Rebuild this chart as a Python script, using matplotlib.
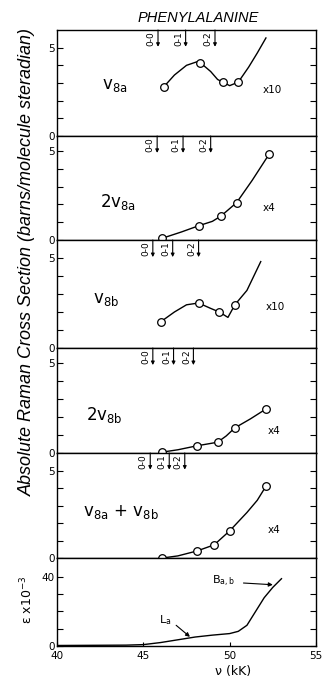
import matplotlib
matplotlib.use("Agg")
import matplotlib.pyplot as plt
from matplotlib.ticker import FixedLocator

plt.rcParams['font.family'] = ['DejaVu Sans']
plt.rcParams['mathtext.fontset'] = 'dejavusans'

# --- data (x in kK) ---
v8a_pts_x = [46.2, 48.3, 49.6, 50.5]
v8a_pts_y = [2.8, 4.15, 3.05, 3.05]
v8a_line_x = [46.2, 46.8, 47.5, 48.1, 48.3, 48.9, 49.3, 49.6, 50.0, 50.5, 51.1, 51.6, 52.1]
v8a_line_y = [2.8, 3.45, 4.0, 4.2, 4.15, 3.65, 3.2, 3.05, 2.85, 3.05, 3.9, 4.7, 5.55]

v8a2_pts_x = [46.1, 48.2, 49.5, 50.4, 52.3]
v8a2_pts_y = [0.1, 0.8, 1.35, 2.1, 4.85]
v8a2_line_x = [46.1, 47.2, 48.2, 49.0, 49.5, 50.4, 51.3, 51.8, 52.3]
v8a2_line_y = [0.1, 0.45, 0.8, 1.05, 1.35, 2.1, 3.35, 4.1, 4.85]

v8b_pts_x = [46.0, 48.2, 49.4, 50.3]
v8b_pts_y = [1.45, 2.5, 2.0, 2.4]
v8b_line_x = [46.0, 46.8, 47.5, 48.2, 48.9, 49.4, 49.9, 50.3, 51.0, 51.8]
v8b_line_y = [1.45, 2.0, 2.4, 2.5, 2.2, 2.0, 1.7, 2.4, 3.2, 4.8]

v8b2_pts_x = [46.1, 48.1, 49.3, 50.3, 52.1]
v8b2_pts_y = [0.05, 0.4, 0.6, 1.4, 2.45]
v8b2_line_x = [46.1, 47.0, 48.1, 49.3, 49.8, 50.3, 51.2, 52.1]
v8b2_line_y = [0.05, 0.18, 0.4, 0.6, 0.95, 1.4, 1.9, 2.45]

comb_pts_x = [46.1, 48.1, 49.1, 50.0, 52.1]
comb_pts_y = [0.0, 0.4, 0.75, 1.55, 4.1]
comb_line_x = [46.1, 47.0, 48.1, 49.1, 50.0, 51.0, 51.6, 52.1]
comb_line_y = [0.0, 0.12, 0.4, 0.75, 1.55, 2.6, 3.3, 4.1]

eps_x = [40.0, 44.0, 45.0, 46.0, 47.0, 48.0, 49.0, 50.0, 50.5, 51.0, 51.5, 52.0, 52.5, 53.0]
eps_y = [0.3, 0.5, 0.8, 2.0, 3.6, 5.2, 6.3, 7.2, 8.5, 12.0, 20.0, 28.0, 34.0, 39.0]

panel_names = [r'$\mathrm{v}_{\mathsf{8a}}$', r'$\mathsf{2}\mathrm{v}_{\mathsf{8a}}$',
               r'$\mathrm{v}_{\mathsf{8b}}$', r'$\mathsf{2}\mathrm{v}_{\mathsf{8b}}$',
               r'$\mathrm{v}_{\mathsf{8a}}\ \mathsf{+}\ \mathrm{v}_{\mathsf{8b}}$']
panel_scales = ['x10', 'x4', 'x10', 'x4', 'x4']
vib_labels = ['0-0', '0-1', '0-2']
vib_pos = [[45.85, 47.45, 49.15],
           [45.8, 47.3, 48.9],
           [45.55, 46.7, 48.2],
           [45.55, 46.75, 47.9],
           [45.4, 46.5, 47.4]]

series = [(v8a_pts_x, v8a_pts_y, v8a_line_x, v8a_line_y),
          (v8a2_pts_x, v8a2_pts_y, v8a2_line_x, v8a2_line_y),
          (v8b_pts_x, v8b_pts_y, v8b_line_x, v8b_line_y),
          (v8b2_pts_x, v8b2_pts_y, v8b2_line_x, v8b2_line_y),
          (comb_pts_x, comb_pts_y, comb_line_x, comb_line_y)]

# --- layout in pixels ---
W, H = 322, 682
LEFT, RIGHT = 57, 316
bounds = [(30, 136), (136, 240), (240, 348), (348, 453), (453, 558), (558, 646)]
ytops = [6.0, 5.85, 6.0, 5.85, 6.0, 51.0]
name_xy = [(42.6, 2.9), (42.5, 2.15), (42.1, 2.7), (41.7, 2.1), (41.5, 2.65)]
scale_xy = [(51.9, 2.6), (51.9, 1.8), (52.1, 2.3), (52.2, 1.2), (52.2, 1.6)]

fig = plt.figure(figsize=(W / 100, H / 100), dpi=100)
axes = []
for (top, bot), ytop in zip(bounds, ytops):
    ax = fig.add_axes([LEFT / W, 1 - bot / H, (RIGHT - LEFT) / W, (bot - top) / H])
    ax.set_xlim(40, 55)
    ax.set_ylim(0, ytop)
    for s in ax.spines.values():
        s.set_linewidth(1.0)
    ax.tick_params(which='both', direction='in', length=4.5, width=0.8,
                   left=True, right=True, top=False, bottom=False,
                   labelsize=7.5, pad=1.5)
    ax.set_xticks([])
    axes.append(ax)

for i, ax in enumerate(axes[:5]):
    px, py, lx, ly = series[i]
    ax.plot(lx, ly, color='black', lw=1.0, zorder=2)
    ax.plot(px, py, 'o', ms=5.5, mfc='white', mec='black', mew=0.9, zorder=3)
    ax.yaxis.set_major_locator(FixedLocator([0, 5]))
    ax.yaxis.set_minor_locator(FixedLocator([1, 2, 3, 4]))
    ax.text(*name_xy[i], panel_names[i], fontsize=12, va='center', ha='left')
    ax.text(*scale_xy[i], panel_scales[i], fontsize=7.5, va='center', ha='left')
    ytop = ytops[i]
    for lab, xv in zip(vib_labels, vib_pos[i]):
        ax.annotate('', xy=(xv, ytop - 0.95), xytext=(xv, ytop),
                    arrowprops=dict(arrowstyle='-|>', lw=0.8, color='black',
                                    mutation_scale=5, shrinkA=0, shrinkB=0))
        ax.annotate(lab, xy=(xv, ytop - 0.48), xytext=(-5, 0),
                    textcoords='offset points', rotation=90, fontsize=6.5,
                    ha='center', va='center')

ax = axes[5]
ax.plot(eps_x, eps_y, color='black', lw=1.0)
ax.yaxis.set_major_locator(FixedLocator([0, 40]))
ax.yaxis.set_minor_locator(FixedLocator([10, 20, 30]))
ax.set_xticks([40, 45, 50, 55])
ax.tick_params(axis='x', bottom=True, direction='in', length=3, labelsize=7.5, pad=3.5)
ax.set_xlabel('ν (kK)', fontsize=9, labelpad=1)
ax.xaxis.set_label_coords(0.68, -0.22)
ax.text(45.9, 15, r'L$_{\mathsf{a}}$', fontsize=8, ha='left', va='center')
ax.annotate('', xy=(47.7, 5.3), xytext=(46.9, 12),
            arrowprops=dict(arrowstyle='-|>', lw=0.8, color='black', mutation_scale=6,
                            shrinkA=0, shrinkB=0))
ax.text(49.0, 37.5, r'B$_{\mathsf{a,b}}$', fontsize=8, ha='left', va='center')
ax.annotate('', xy=(52.5, 35.5), xytext=(50.8, 36.5),
            arrowprops=dict(arrowstyle='-|>', lw=0.8, color='black', mutation_scale=6,
                            shrinkA=0, shrinkB=0))

fig.text(198 / W, 1 - 18 / H, 'PHENYLALANINE', fontsize=10.5, style='italic',
         family='Liberation Sans', ha='center', va='center')
fig.text(27 / W, 1 - 262 / H, 'Absolute Raman Cross Section (barns/molecule steradian)',
         fontsize=13, style='italic', family='Liberation Sans', rotation=90,
         ha='center', va='center')
fig.text(27 / W, 1 - 600 / H, r'ε x10$^{-3}$', fontsize=9, rotation=90,
         ha='center', va='center')

fig.savefig('out.png', dpi=100)
